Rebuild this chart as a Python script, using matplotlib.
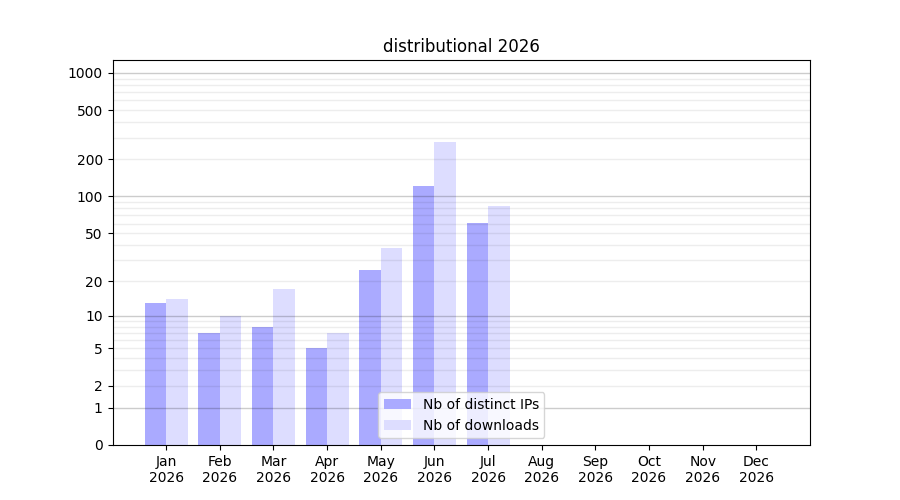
import numpy as np
import matplotlib
matplotlib.use('Agg')
import matplotlib.pyplot as plt

months = ['Jan', 'Feb', 'Mar', 'Apr', 'May', 'Jun', 'Jul', 'Aug', 'Sep', 'Oct', 'Nov', 'Dec']
year = 2026
distinct_ips = [13, 7, 8, 5, 25, 122, 61, 0, 0, 0, 0, 0]
downloads = [14, 10, 17, 7, 38, 277, 84, 0, 0, 0, 0, 0]
ytick_values = [0, 1, 2, 5, 10, 20, 50, 100, 200, 500, 1000]


def fwd(y):
    return np.log10(np.clip(y, 0, None) + 1)


def inv(y):
    return 10 ** y - 1


fig, ax = plt.subplots(figsize=(9, 5), dpi=100)
x = np.arange(len(months))
width = 0.4

ax.bar(x - width / 2, distinct_ips, width, color='#aaaaff', label='Nb of distinct IPs', zorder=1)
ax.bar(x + width / 2, downloads, width, color='#ddddff', label='Nb of downloads', zorder=1)

ax.set_yscale('function', functions=(fwd, inv))
ax.set_ylim(0, 1270)
ax.set_xlim(-1, len(months))

# grid drawn over the bars, decades darker
for dec in [1, 10, 100, 1000]:
    ax.axhline(dec, color='black', alpha=0.2, lw=1, zorder=2)
    if dec < 1000:
        for m in range(2, 10):
            ax.axhline(dec * m, color='black', alpha=0.07, lw=1, zorder=2)

ax.set_yticks(ytick_values)
ax.set_yticklabels([str(v) for v in ytick_values])
ax.minorticks_off()
ax.set_xticks(x)
ax.set_xticklabels([f'{m}\n{year}' for m in months])

ax.set_title(f'distributional {year}')
ax.legend(loc='lower center')

plt.savefig('out.png')
